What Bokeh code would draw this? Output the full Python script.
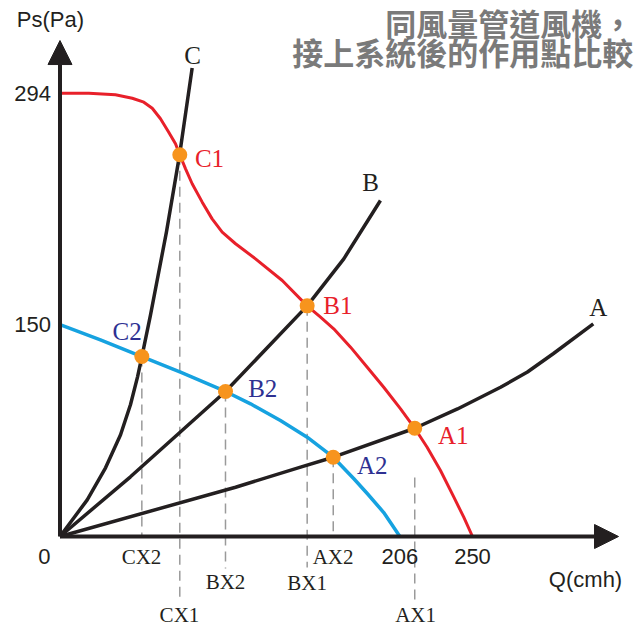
from bokeh.plotting import figure
from bokeh.models import Range1d, Arrow, NormalHead, ColumnDataSource
from bokeh.core.properties import value
from bokeh.embed import file_html
from bokeh.resources import INLINE

# ---- data (Q in cmh, Ps in Pa, read from the schematic) ----
fan1_q = [0, 17.5, 33.6, 43.8, 50.8, 55.9, 60.9, 65.9, 70.0, 72.6, 76.1, 80.1, 86.2, 92.2,
          98.3, 106.4, 118.5, 134.7, 149.8, 157.9, 165.9, 176.1, 186.2, 196.2, 206.4, 215.0,
          222.5, 230.6, 238.7, 244.7, 250.0]
fan1_p = [294, 294, 293.0, 290.7, 288.1, 284.1, 277.1, 268.2, 260.5, 253.2, 243.9, 234.0,
          221.8, 210.7, 201.9, 194.2, 184.2, 169.8, 153.0, 145.5, 137.8, 125.6, 112.3, 99.0,
          84.7, 71.8, 59.2, 43.8, 26.1, 12.8, 0]

fan2_q = [0, 24.5, 49.6, 73.0, 100.3, 115.5, 133.6, 149.8, 165.6, 178.1, 186.2, 196.2, 206.0]
fan2_p = [140.6, 130.5, 119.4, 109.0, 96.2, 88.0, 76.9, 65.9, 52.6, 38.3, 28.5, 15.9, 0]

sysA_q = [0, 106.4, 145.8, 165.6, 215.0, 240.9, 267.0, 283.3, 299.1, 323.2]
sysA_p = [0, 32.7, 46.0, 52.6, 71.8, 84.6, 99.0, 109.1, 121.4, 141.1]

sysB_q = [0, 42.7, 100.3, 149.8, 172.0, 194.2]
sysB_p = [0, 39.6, 96.2, 153.0, 184.2, 222.9]

sysC_q = [0, 16.5, 27.6, 36.7, 42.7, 47.0, 49.7, 54.8, 64.5, 72.6, 80.1]
sysC_p = [0, 24.3, 45.6, 67.5, 87.4, 105.9, 119.7, 146.7, 201.9, 254.0, 310.8]

# operating points
pt_names = ["C1", "B1", "A1", "C2", "B2", "A2"]
pt_q = [72.6, 149.8, 215.0, 49.6, 100.3, 165.6]
pt_p = [253.2, 153.0, 71.8, 119.4, 96.2, 52.6]

# drop lines (from point to below axis)
drop_q = [72.6, 49.6, 100.3, 149.8, 165.6, 215.0]
drop_top = [253.2, 119.4, 96.2, 153.0, 52.6, 39.1]
drop_bottom = [-42.5, 0, -21.2, -20.6, 0, -42.5]

# drop line labels
drop_labels = ["CX1", "CX2", "BX2", "BX1", "AX2", "AX1"]
drop_label_q = [72.4, 49.4, 100.3, 149.8, 165.5, 215.5]
drop_label_p = [-52.4, -13.9, -30.5, -30.8, -13.3, -52.4]

# tick labels
x_tick_values = [206, 250]
x_tick_labels = ["206", "250"]
y_tick_values = [294, 140.6]
y_tick_labels = ["294", "150"]

title_lines = ["同風量管道風機，", "接上系統後的作用點比較"]

# ---- figure ----
X0, X1 = -36.06, 353.03
Y0, Y1 = -59.70, 355.56
p = figure(width=642, height=626, x_range=Range1d(X0, X1), y_range=Range1d(Y0, Y1),
           output_backend="svg", toolbar_location=None, x_axis_type=None, y_axis_type=None,
           min_border=0)
p.grid.visible = False
p.outline_line_color = None
p.background_fill_color = "white"
p.border_fill_color = "white"

DARK = "#231f20"
RED = "#e8202a"
BLUE = "#16a2e0"
NAVY = "#2e3192"
ORANGE = "#f7941d"
DASH = "#9a9a9a"

# dashed drop lines
p.segment(x0=drop_q, y0=drop_top, x1=drop_q, y1=drop_bottom, line_color=DASH,
          line_width=1.5, line_dash="10 6")

# axes as arrows
Q_TIP = 338.5
P_TIP = 329.0
p.add_layout(Arrow(x_start=0, y_start=0, x_end=Q_TIP, y_end=0, line_color=DARK, line_width=4,
                   end=NormalHead(size=24, fill_color=DARK, line_color=DARK, line_width=1)))
p.add_layout(Arrow(x_start=0, y_start=0, x_end=0, y_end=P_TIP, line_color=DARK, line_width=4,
                   end=NormalHead(size=24, fill_color=DARK, line_color=DARK, line_width=1)))

# system curves
for q, pp in [(sysA_q, sysA_p), (sysB_q, sysB_p), (sysC_q, sysC_p)]:
    p.line(q, pp, line_color=DARK, line_width=3.5, line_join="round")

# fan curves
p.line(fan1_q, fan1_p, line_color=RED, line_width=3, line_join="round")
p.line(fan2_q, fan2_p, line_color=BLUE, line_width=3.5, line_join="round")

# operating points
p.scatter(pt_q, pt_p, size=15, fill_color=ORANGE, line_color=None)

SERIF = value("Liberation Serif")
SANS = value("Liberation Sans")

# curve names
p.text(x=[326.2, 188.2, 80.4], y=[151.9, 234.8, 319.0], text=["A", "B", "C"],
       text_font=SERIF, text_font_size="25px", text_color=DARK,
       text_align="center", text_baseline="middle")

# point labels
lab_q = [90.6, 168.4, 238.3, 40.7, 122.9, 189.2]
lab_p = [250.7, 153.2, 67.0, 135.9, 98.0, 47.1]
lab_c = [RED, RED, RED, NAVY, NAVY, NAVY]
src = ColumnDataSource(dict(x=lab_q, y=lab_p, t=pt_names, c=lab_c))
p.text(x="x", y="y", text="t", text_color="c", source=src, text_font=SERIF,
       text_font_size="25px", text_align="center", text_baseline="middle")

# drop labels
p.text(x=drop_label_q, y=drop_label_p, text=drop_labels, text_font=SERIF,
       text_font_size="21px", text_color=DARK, text_align="center", text_baseline="middle")

# tick labels
p.text(x=x_tick_values, y=[-13.3] * len(x_tick_values), text=x_tick_labels, text_font=SANS,
       text_font_size="22px", text_color=DARK, text_align="center", text_baseline="middle")
p.text(x=[-5.5] * len(y_tick_values), y=y_tick_values, text=y_tick_labels, text_font=SANS,
       text_font_size="22px", text_color=DARK, text_align="right", text_baseline="middle")
p.text(x=[-9.4], y=[-13.3], text=["0"], text_font=SANS, text_font_size="22px",
       text_color=DARK, text_align="center", text_baseline="middle")

# axis titles
p.text(x=[-5.8], y=[343.0], text=["Ps(Pa)"], text_font=SANS, text_font_size="22px",
       text_color=DARK, text_align="center", text_baseline="middle")
p.text(x=[318.5], y=[-28.5], text=["Q(cmh)"], text_font=SANS, text_font_size="22px",
       text_color=DARK, text_align="center", text_baseline="middle")

# title
p.text(x=[347.4, 347.4], y=[341.0, 321.7], text=title_lines, text_font=value("Noto Sans CJK TC"),
       text_font_size="31px", text_font_style="bold", text_color="#7a7a7a",
       text_align="right", text_baseline="middle")

open("out.html", "w").write(file_html(p, INLINE))
